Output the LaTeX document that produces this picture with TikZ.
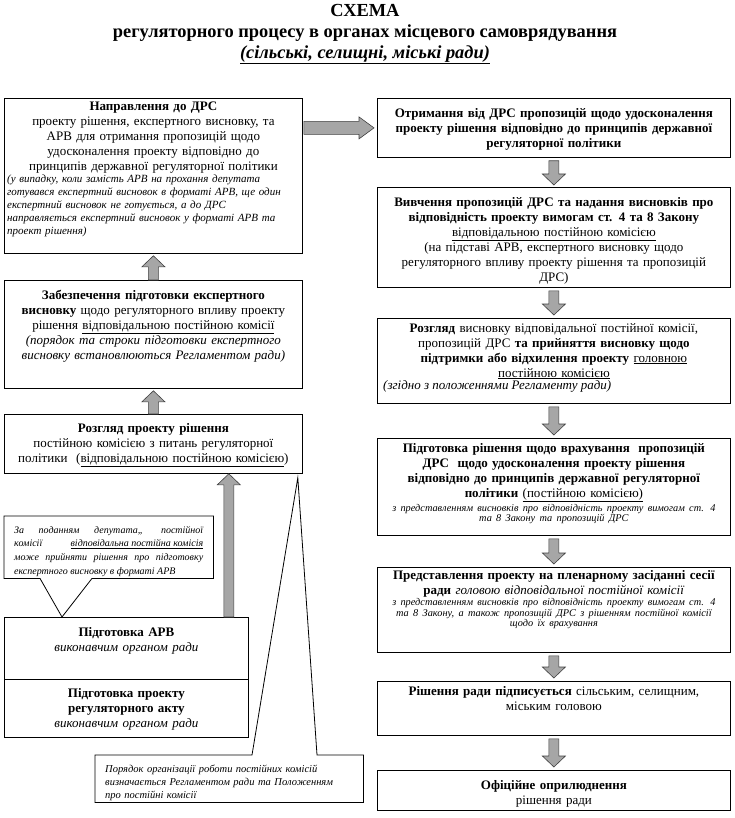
\documentclass[tikz,border=0pt]{standalone}
\usepackage{fontspec}
\setmainfont{Liberation Serif}
\usetikzlibrary{positioning,calc}

\newcommand\bodyf{\fontsize{13}{15}\selectfont}
\newcommand\notef{\fontsize{10.5}{13}\selectfont\itshape}
\newcommand\smallf{\fontsize{10.3}{10.5}\selectfont\itshape}

% grey block arrow, tail #1, tip #2 (same x)
\newcommand\vblock[2]{%
  \draw[blk] let \p1=(#1), \p2=(#2), \n1={sign(\y2-\y1)} in
    ({\x1-5pt},\y1) -- ({\x1-5pt},{\y2-\n1*11pt}) -- ({\x1-11.5pt},{\y2-\n1*11pt})
    -- (\x1,\y2) -- ({\x1+11.5pt},{\y2-\n1*11pt}) -- ({\x1+5pt},{\y2-\n1*11pt})
    -- ({\x1+5pt},\y1) -- cycle;}

\begin{document}
\begin{tikzpicture}[x=1pt,y=-1pt,
  box/.style={draw,line width=.8pt,anchor=north west,inner sep=0pt},
  txt/.style={align=center,inner sep=0pt,font=\bodyf},
  callout/.style={anchor=north west,inner sep=0pt,font=\notef},
  blk/.style={fill=black!35,draw=black!75,line width=.6pt}]
\useasboundingbox (0,0) rectangle (734,818);

\node[font=\bfseries\fontsize{18.4}{21}\selectfont,align=center] (title) at (365,34)
  {СХЕМА\\регуляторного процесу в органах місцевого самоврядування\\
   \underline{\textit{(сільські, селищні, міські ради)}}};

\node[box,minimum width=298pt,minimum height=155pt] (napr) at (4,98) {};
\node[txt,text width=292pt,below=4pt of napr.north] (naprtxt)
  {\textbf{Направлення до ДРС}\\
   проекту рішення, експертного висновку, та\\
   АРВ для отримання пропозицій щодо\\
   удосконалення проекту відповідно до\\
   принципів державної регуляторної політики};
\node[callout,align=left,text width=292pt,font=\fontsize{11}{13}\selectfont\itshape] (naprnote)
  at ([shift={(3pt,-77pt)}]napr.north west)
  {(у випадку, коли замість АРВ на прохання депутата\\
   готувався експертний висновок в форматі АРВ, ще один\\
   експертний висновок не готується, а до ДРС\\
   направляється експертний висновок у форматі АРВ та\\
   проект рішення)};

\node[box,minimum width=298pt,minimum height=108pt] (zabezp) at (4,280) {};
\node[txt,text width=292pt,below=10pt of zabezp.north] (zabezptxt)
  {\textbf{Забезпечення підготовки експертного}\\
   \textbf{висновку} щодо регуляторного впливу проекту\\
   рішення \underline{відповідальною постійною комісії}\\
   \textit{(порядок та строки підготовки експертного}\\
   \textit{висновку встановлюються Регламентом ради)}};

\node[box,minimum width=298pt,minimum height=59pt] (rozhl) at (4,414) {};
\node[txt,text width=292pt,below=9pt of rozhl.north] (rozhltxt)
  {\textbf{Розгляд проекту рішення}\\
   постійною комісією з питань регуляторної\\
   політики~~(\underline{відповідальною постійною комісією})};

\node[callout,minimum width=209pt,minimum height=62pt,text width=189pt,align=justify,
  font=\fontsize{10}{13.7}\selectfont\itshape] (depnote) at (4,516)
  {\rule{0pt}{15pt}За поданням депутата,, постійної\linebreak
   комісії \underline{відповідальна постійна комісія}\linebreak
   може прийняти рішення про підготовку\linebreak
   експертного висновку в форматі АРВ};

\node[box,minimum width=244pt,minimum height=62pt] (arv) at (4,617) {};
\node[txt,text width=238pt,below=10pt of arv.north] (arvtxt)
  {\textbf{Підготовка АРВ}\\
   \textit{виконавчим органом ради}};
\node[box,minimum width=244pt,minimum height=58pt] (proj) at (4,679) {};
\node[txt,text width=238pt,below=9pt of proj.north] (projtxt)
  {\textbf{Підготовка проекту}\\
   \textbf{регуляторного акту}\\
   \textit{виконавчим органом ради}};

\coordinate (deptip) at ([xshift=58pt]arv.north west);
\draw[line width=.8pt] (depnote.south west) -- (depnote.north west) -- (depnote.north east)
  -- (depnote.south east) -- ([xshift=88pt]depnote.south west) -- (deptip)
  -- ([xshift=36pt]depnote.south west) -- cycle;

\node[callout,minimum width=268pt,minimum height=47pt,text width=248pt,align=left] (ordnote) at (95,755)
  {\rule{0pt}{15pt}Порядок організації роботи постійних комісій\\
   визначається Регламентом ради та Положенням\\
   про постійні комісії};
\coordinate (ordtip) at ([xshift=-5pt,yshift=-4pt]rozhl.south east);
\draw[line width=.8pt] (ordnote.north west) -- ([xshift=157pt]ordnote.north west) -- (ordtip)
  -- ([xshift=222pt]ordnote.north west) -- (ordnote.north east) -- (ordnote.south east)
  -- (ordnote.south west) -- cycle;

\node[box,minimum width=353pt,minimum height=59pt] (otr) at (377,98) {};
\node[txt,text width=347pt,font=\bodyf\bfseries,below=10pt of otr.north] (otrtxt)
  {Отримання від ДРС пропозицій щодо удосконалення\\
   проекту рішення відповідно до принципів державної\\
   регуляторної політики};

\node[box,minimum width=353pt,minimum height=100pt] (vyvch) at (377,187) {};
\node[txt,text width=347pt,below=10pt of vyvch.north] (vyvchtxt)
  {\textbf{Вивчення пропозицій ДРС та надання висновків про}\\
   \textbf{відповідність проекту вимогам ст. 4 та 8 Закону}\\
   \underline{відповідальною постійною комісією}\\
   (на підставі АРВ, експертного висновку щодо\\
   регуляторного впливу проекту рішення та пропозицій\\
   ДРС)};

\node[box,minimum width=353pt,minimum height=85pt] (rozgl) at (377,318) {};
\node[txt,text width=347pt,below=5pt of rozgl.north] (rozgltxt)
  {\textbf{Розгляд} висновку відповідальної постійної комісії,\\
   пропозицій ДРС \textbf{та прийняття висновку щодо}\\
   \textbf{підтримки або відхилення проекту} \underline{головною}\\
   \underline{постійною комісією}};
\node[txt,anchor=north west,font=\bodyf\itshape] (rozglnote) at ([shift={(6pt,-62pt)}]rozgl.north west)
  {(згідно з положеннями Регламенту ради)};

\node[box,minimum width=353pt,minimum height=97pt] (pidg) at (377,438) {};
\node[txt,text width=347pt,below=5pt of pidg.north] (pidgtxt)
  {\textbf{Підготовка рішення щодо врахування~~пропозицій}\\
   \textbf{ДРС~~щодо удосконалення проекту рішення}\\
   \textbf{відповідно до принципів державної регуляторної}\\
   \textbf{політики} \underline{(постійною комісією)}\\[1pt]
   \smallf з представленням висновків про відповідність проекту вимогам ст. 4\\
   та 8 Закону та пропозицій ДРС\par};

\node[box,minimum width=353pt,minimum height=85pt] (pred) at (377,567) {};
\node[txt,text width=347pt,below=3pt of pred.north] (predtxt)
  {\textbf{Представлення проекту на пленарному засіданні сесії}\\
   \textbf{ради} \textit{головою відповідальної постійної комісії}\\[1pt]
   \smallf з представленням висновків про відповідність проекту вимогам ст. 4\\
   та 8 Закону, а також пропозицій ДРС з рішенням постійної комісії\\
   щодо їх врахування\par};

\node[box,minimum width=353pt,minimum height=54pt] (pidp) at (377,681) {};
\node[txt,text width=347pt,below=5pt of pidp.north] (pidptxt)
  {\textbf{Рішення ради підписується} сільським, селищним,\\
   міським головою};

\node[box,minimum width=353pt,minimum height=40pt] (ofic) at (377,770) {};
\node[txt,text width=347pt,below=10pt of ofic.north] (ofictxt)
  {\textbf{Офіційне оприлюднення}\\
   рішення ради};

\vblock{zabezp.north}{[yshift=-2pt]napr.south}
\vblock{rozhl.north}{[yshift=-2pt]zabezp.south}
\coordinate (bigtail) at ([xshift=-20pt]arv.north east);
\vblock{bigtail}{bigtail |- rozhl.south}

\vblock{[yshift=-3pt]otr.south}{[yshift=2pt]vyvch.north}
\vblock{[yshift=-3pt]vyvch.south}{[yshift=3pt]rozgl.north}
\vblock{[yshift=-3pt]rozgl.south}{[yshift=3pt]pidg.north}
\vblock{[yshift=-3pt]pidg.south}{[yshift=3pt]pred.north}
\vblock{[yshift=-3pt]pred.south}{[yshift=3pt]pidp.north}
\vblock{[yshift=-3pt]pidp.south}{[yshift=3pt]ofic.north}

\draw[blk] let \p1=([xshift=1pt]napr.east |- otr.west), \p2=([xshift=-3pt]otr.west) in
  (\x1,{\y1+6.5pt}) -- ({\x2-15pt},{\y1+6.5pt}) -- ({\x2-15pt},{\y1+11pt}) -- (\x2,\y1)
  -- ({\x2-15pt},{\y1-11pt}) -- ({\x2-15pt},{\y1-6.5pt}) -- (\x1,{\y1-6.5pt}) -- cycle;

\end{tikzpicture}
\end{document}
